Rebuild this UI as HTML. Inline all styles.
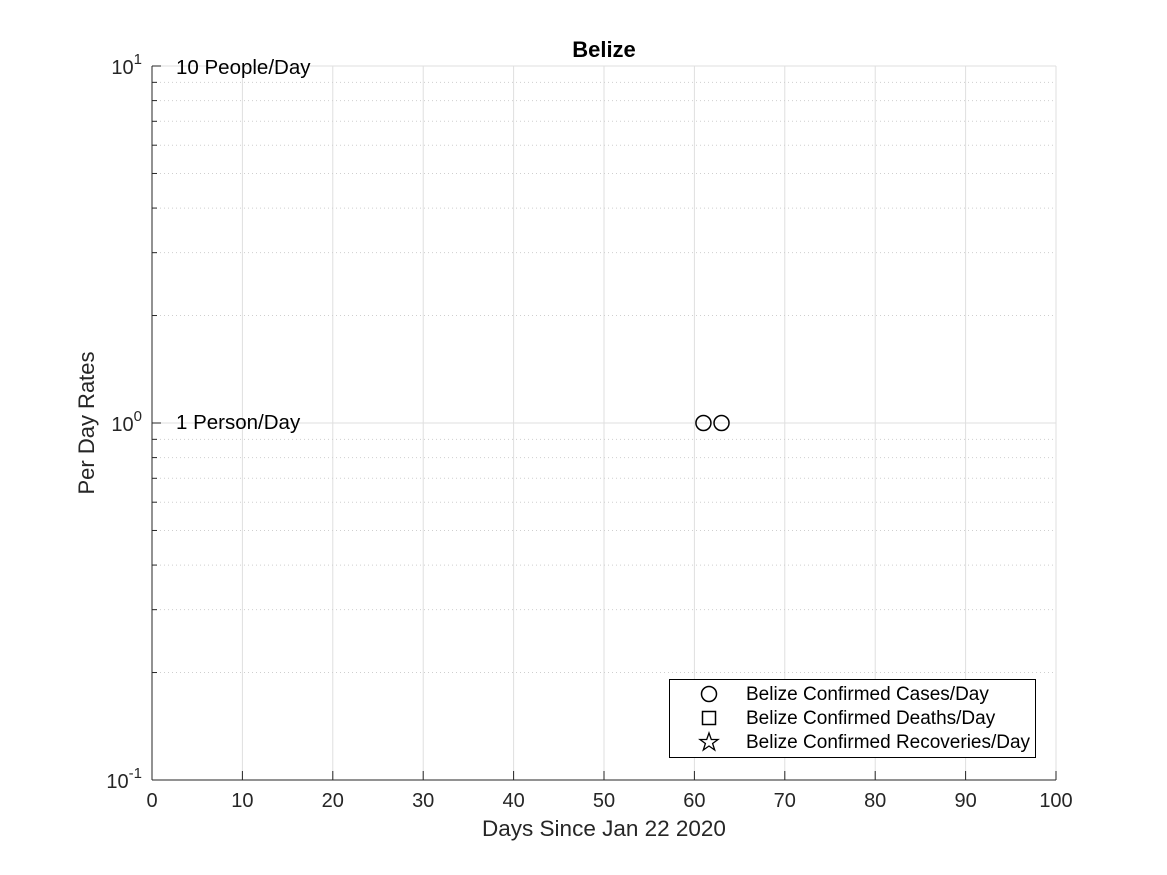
<!DOCTYPE html>
<html><head><meta charset="utf-8"><style>
body{margin:0;background:#fff;}
svg{display:block;font-family:"Liberation Sans",Arial,sans-serif;}
</style></head><body>
<svg id="chart" width="1167" height="875" viewBox="0 0 1167 875">
<rect width="1167" height="875" fill="#fff"/>
<g id="grid"></g>
<g id="axes"></g>
<g id="marks"></g>
<text x="604" y="57" text-anchor="middle" font-size="22" font-weight="bold">Belize</text>
<text x="604" y="836" text-anchor="middle" font-size="22.5" fill="#262626">Days Since Jan 22 2020</text>
<text transform="translate(94,423) rotate(-90)" text-anchor="middle" font-size="22" fill="#262626">Per Day Rates</text>
<text x="176" y="74" font-size="20.5">10 People/Day</text>
<text x="176" y="429" font-size="20.5">1 Person/Day</text>
<g>
<rect x="669.5" y="679.5" width="366" height="78" fill="#fff" stroke="#000" stroke-width="1"/>
<circle cx="709" cy="694" r="7.5" fill="none" stroke="#000" stroke-width="1.5"/>
<text x="746" y="700" font-size="19">Belize Confirmed Cases/Day</text>
<rect x="702.5" y="711.5" width="13" height="13" fill="none" stroke="#000" stroke-width="1.5"/>
<text x="746" y="724" font-size="19">Belize Confirmed Deaths/Day</text>
<polygon points="709,733 711.3,739.5 718,739.5 712.6,743.5 714.7,750 709,746 703.3,750 705.4,743.5 700,739.5 706.7,739.5" fill="none" stroke="#000" stroke-width="1.3"/>
<text x="746" y="748" font-size="19">Belize Confirmed Recoveries/Day</text>
</g>
</svg>
<script>
const xTicks=[0,10,20,30,40,50,60,70,80,90,100];
const yDecades=[-1,0,1];
const caseDays=[61,63];
const caseValues=[1,1];
const deathDays=[];
const deathValues=[];
const recDays=[];
const recValues=[];
const NS="http://www.w3.org/2000/svg";
const X0=152,X1=1056,Y0=780,Y1=66;
function sx(v){return X0+(v-0)/(100-0)*(X1-X0);}
function sy(v){const l=Math.log10(v);return Y0-(l+1)/2*(Y0-Y1);}
function mk(tag,a,p){const e=document.createElementNS(NS,tag);for(const k in a)e.setAttribute(k,a[k]);p.appendChild(e);return e;}
const grid=document.getElementById('grid'),axes=document.getElementById('axes'),marks=document.getElementById('marks');
xTicks.forEach(t=>{
  const x=sx(t);
  if(t>0){const g=mk('line',{x1:x,x2:x,y1:Y1,y2:Y0,stroke:'#dfdfdf','stroke-width':1},grid);
  
  }
  const tk=mk('line',{x1:x,x2:x,y1:Y0,y2:Y0-9,stroke:'#262626','stroke-width':1},axes);
  
  
  const lb=mk('text',{x:x,y:Y0+27,'text-anchor':'middle','font-size':20,fill:'#262626'},axes);lb.textContent=t;
  
  
});
yDecades.forEach(d=>{
  const y=sy(Math.pow(10,d));
  if(d>-1){const g=mk('line',{x1:X0,x2:X1,y1:y,y2:y,stroke:'#dfdfdf','stroke-width':1},grid);
  
  }
  const tk=mk('line',{x1:X0,x2:X0+9,y1:y,y2:y,stroke:'#262626','stroke-width':1},axes);
  
  
  const lb=mk('text',{x:X0-10,y:y+8,'text-anchor':'end','font-size':20,fill:'#262626'},axes);
  lb.innerHTML='10<tspan dy="-10" font-size="15">'+d+'</tspan>';
  
  
  if(d<1){for(let m=2;m<=9;m++){const yy=sy(m*Math.pow(10,d));
    const g=mk('line',{x1:X0,x2:X1,y1:yy,y2:yy,stroke:'#cfcfcf','stroke-width':1,'stroke-dasharray':'1,3'},grid);
    
    
    const mt=mk('line',{x1:X0,x2:X0+5,y1:yy,y2:yy,stroke:'#262626','stroke-width':1},axes);
    
    }}
});
const xa=mk('line',{x1:X0,x2:X1,y1:Y0,y2:Y0,stroke:'#262626','stroke-width':1},axes);


const ya=mk('line',{x1:X0,x2:X0,y1:Y0,y2:Y1,stroke:'#262626','stroke-width':1},axes);


caseDays.forEach((d,i)=>{
  const c=mk('circle',{cx:sx(d),cy:sy(caseValues[i]),r:7.5,fill:'none',stroke:'#000','stroke-width':1.5},marks);
  
  
});
deathDays.forEach((d,i)=>{
  const r=mk('rect',{x:sx(d)-6.5,y:sy(deathValues[i])-6.5,width:13,height:13,fill:'none',stroke:'#000','stroke-width':1.5},marks);
  
  
});
recDays.forEach((d,i)=>{
  const c=mk('text',{x:sx(d),y:sy(recValues[i])+6,'text-anchor':'middle','font-size':18},marks);c.textContent='☆';
  
  
});
</script>
</body></html>
